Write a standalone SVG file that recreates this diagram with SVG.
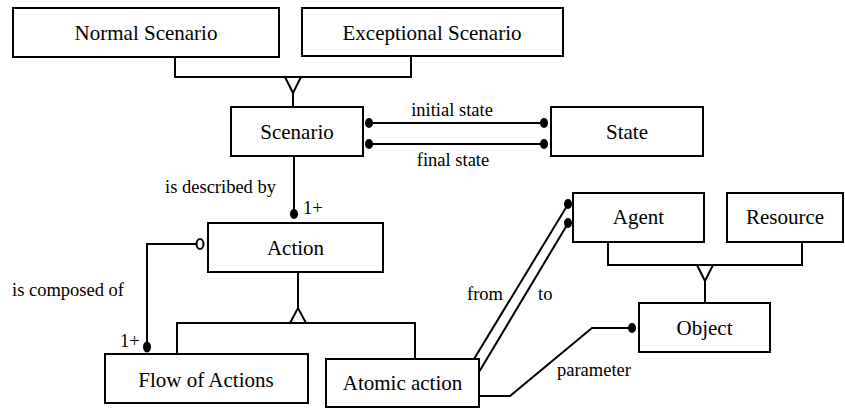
<svg xmlns="http://www.w3.org/2000/svg" width="845" height="409" viewBox="0 0 845 409">
<rect width="845" height="409" fill="#fff"/>
<g id="connectors" fill="none" stroke="#000" stroke-width="2">
<polyline points="175,57 175,77 411,77 411,56"/>
<line x1="293" y1="93" x2="293" y2="107"/>
<polygon fill="#fff" points="285,77 301,77 293,93"/>
<line x1="370" y1="123" x2="543" y2="123"/>
<line x1="370" y1="144" x2="543" y2="144"/>
<line x1="294" y1="156" x2="294" y2="212"/>
<polyline points="196,244 147,244 147,344"/>
<ellipse fill="#fff" cx="200" cy="244" rx="3.5" ry="5"/>
<line x1="298" y1="272" x2="298" y2="308"/>
<polyline points="177,354 177,323 415,323 415,359"/>
<polygon fill="#fff" points="290,323 306,323 298,308"/>
<line x1="474" y1="359" x2="567" y2="206"/>
<line x1="479" y1="372" x2="567" y2="225"/>
<polyline points="479,396 510,396 592,328 630,328"/>
<polyline points="608,242 608,265 802,265 802,242"/>
<polygon fill="#fff" points="697,265 713,265 705,281"/>
<line x1="705" y1="281" x2="705" y2="303"/>
<g fill="#000" stroke="none">
<ellipse cx="369" cy="123" rx="4" ry="5"/>
<ellipse cx="369" cy="144" rx="4" ry="5"/>
<ellipse cx="544" cy="123" rx="4" ry="5"/>
<ellipse cx="544" cy="144" rx="4" ry="5"/>
<ellipse cx="294" cy="214" rx="4" ry="5"/>
<ellipse cx="147" cy="347" rx="4" ry="5.5"/>
<ellipse cx="568" cy="204" rx="4" ry="5"/>
<ellipse cx="568" cy="223" rx="4" ry="5"/>
<ellipse cx="632" cy="328" rx="4" ry="5"/>
</g>
</g>
<g id="labels" fill="#000" font-family="Times New Roman, Liberation Serif, serif" font-size="18.5">
<text x="452" y="116" text-anchor="middle">initial state</text>
<text x="453" y="166" text-anchor="middle">final state</text>
<text x="276" y="193" text-anchor="end">is described by</text>
<text x="303" y="214">1+</text>
<text x="12" y="296">is composed of</text>
<text x="120" y="347">1+</text>
<text x="467" y="300">from</text>
<text x="538" y="300">to</text>
<text x="557" y="376">parameter</text>
</g>
<g id="normal-scenario"><rect fill="#fff" stroke="#000" stroke-width="2" x="13" y="8" width="266" height="49"/><text font-family="Times New Roman, Liberation Serif, serif" font-size="21" text-anchor="middle" x="146" y="40">Normal Scenario</text></g>
<g id="exceptional-scenario"><rect fill="#fff" stroke="#000" stroke-width="2" x="302" y="8" width="261" height="48"/><text font-family="Times New Roman, Liberation Serif, serif" font-size="21" text-anchor="middle" x="432" y="40">Exceptional Scenario</text></g>
<g id="scenario"><rect fill="#fff" stroke="#000" stroke-width="2" x="231" y="107" width="132" height="49"/><text font-family="Times New Roman, Liberation Serif, serif" font-size="21" text-anchor="middle" x="297" y="139">Scenario</text></g>
<g id="state"><rect fill="#fff" stroke="#000" stroke-width="2" x="551" y="107" width="152" height="49"/><text font-family="Times New Roman, Liberation Serif, serif" font-size="21" text-anchor="middle" x="627" y="139">State</text></g>
<g id="action"><rect fill="#fff" stroke="#000" stroke-width="2" x="208" y="223" width="175" height="49"/><text font-family="Times New Roman, Liberation Serif, serif" font-size="21" text-anchor="middle" x="295.5" y="255">Action</text></g>
<g id="flow-of-actions"><rect fill="#fff" stroke="#000" stroke-width="2" x="105" y="354" width="203" height="49"/><text font-family="Times New Roman, Liberation Serif, serif" font-size="21" text-anchor="middle" x="206" y="387">Flow of Actions</text></g>
<g id="atomic-action"><rect fill="#fff" stroke="#000" stroke-width="2" x="326" y="359" width="153" height="48"/><text font-family="Times New Roman, Liberation Serif, serif" font-size="21" text-anchor="middle" x="402.5" y="390">Atomic action</text></g>
<g id="agent"><rect fill="#fff" stroke="#000" stroke-width="2" x="573" y="193" width="131" height="49"/><text font-family="Times New Roman, Liberation Serif, serif" font-size="21" text-anchor="middle" x="638.5" y="224">Agent</text></g>
<g id="resource"><rect fill="#fff" stroke="#000" stroke-width="2" x="727" y="193" width="116" height="49"/><text font-family="Times New Roman, Liberation Serif, serif" font-size="21" text-anchor="middle" x="785" y="224">Resource</text></g>
<g id="object"><rect fill="#fff" stroke="#000" stroke-width="2" x="639" y="303" width="131" height="49"/><text font-family="Times New Roman, Liberation Serif, serif" font-size="21" text-anchor="middle" x="704.5" y="335">Object</text></g>
</svg>
